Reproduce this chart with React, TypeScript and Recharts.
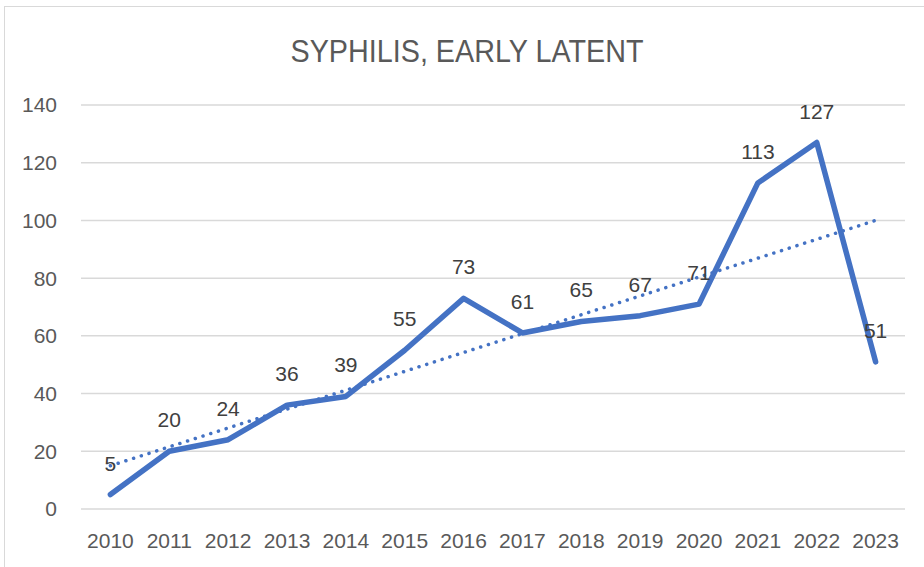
import { CartesianGrid, LabelList, Line, LineChart, XAxis, YAxis } from "recharts";

const years = ["2010", "2011", "2012", "2013", "2014", "2015", "2016", "2017", "2018", "2019", "2020", "2021", "2022", "2023"];
const cases = [5, 20, 24, 36, 39, 55, 73, 61, 65, 67, 71, 113, 127, 51];
// linear trendline, only its two ends
const trend = [15, null, null, null, null, null, null, null, null, null, null, null, null, 100];
const yTicks = [0, 20, 40, 60, 80, 100, 120, 140];

const data = years.map((year, i) => ({ year, cases: cases[i], trend: trend[i] }));

const FONT = "'Liberation Sans', Arial, sans-serif";
const BLUE = "#4472C4";

export default function App() {
  return (
    <div style={{ position: "absolute", left: 0, top: 0, width: 924, height: 567, overflow: "hidden", background: "#fff" }}>
      <div
        style={{
          position: "absolute",
          left: 4,
          top: 6,
          width: 960,
          height: 620,
          border: "1px solid #d9d9d9",
        }}
      />
      <svg style={{ position: "absolute", left: 0, top: 0 }} width={924} height={80}>
        <text
          x={467}
          y={61.5}
          textAnchor="middle"
          fontFamily={FONT}
          fontSize={31}
          fill="#595959"
          textLength={353}
          lengthAdjust="spacingAndGlyphs"
        >
          SYPHILIS, EARLY LATENT
        </text>
      </svg>
      <div style={{ position: "absolute", left: 0, top: 0 }}>
        <LineChart width={924} height={567} data={data} margin={{ top: 105, right: 19, bottom: 0, left: 0 }}>
          <CartesianGrid vertical={false} stroke="#d9d9d9" strokeWidth={1.5} />
          <XAxis
            dataKey="year"
            height={58}
            padding={{ left: 29.4, right: 29.4 }}
            axisLine={false}
            tickLine={false}
            tickSize={0}
            tickMargin={24}
            interval={0}
            tick={{ fontSize: 21, fill: "#595959", fontFamily: FONT }}
          />
          <YAxis
            width={81}
            domain={[0, 140]}
            ticks={yTicks}
            axisLine={false}
            tickLine={false}
            tickSize={0}
            tickMargin={24}
            tick={{ fontSize: 21, fill: "#595959", fontFamily: FONT }}
          />
          <Line
            dataKey="trend"
            stroke={BLUE}
            strokeWidth={3.5}
            strokeDasharray="0.1 8"
            strokeLinecap="round"
            dot={false}
            connectNulls
            isAnimationActive={false}
          />
          <Line
            dataKey="cases"
            stroke={BLUE}
            strokeWidth={5.5}
            strokeLinecap="round"
            strokeLinejoin="round"
            dot={false}
            isAnimationActive={false}
          >
            <LabelList dataKey="cases" position="top" offset={24} fill="#404040" fontSize={21} fontFamily={FONT} />
          </Line>
        </LineChart>
      </div>
    </div>
  );
}
